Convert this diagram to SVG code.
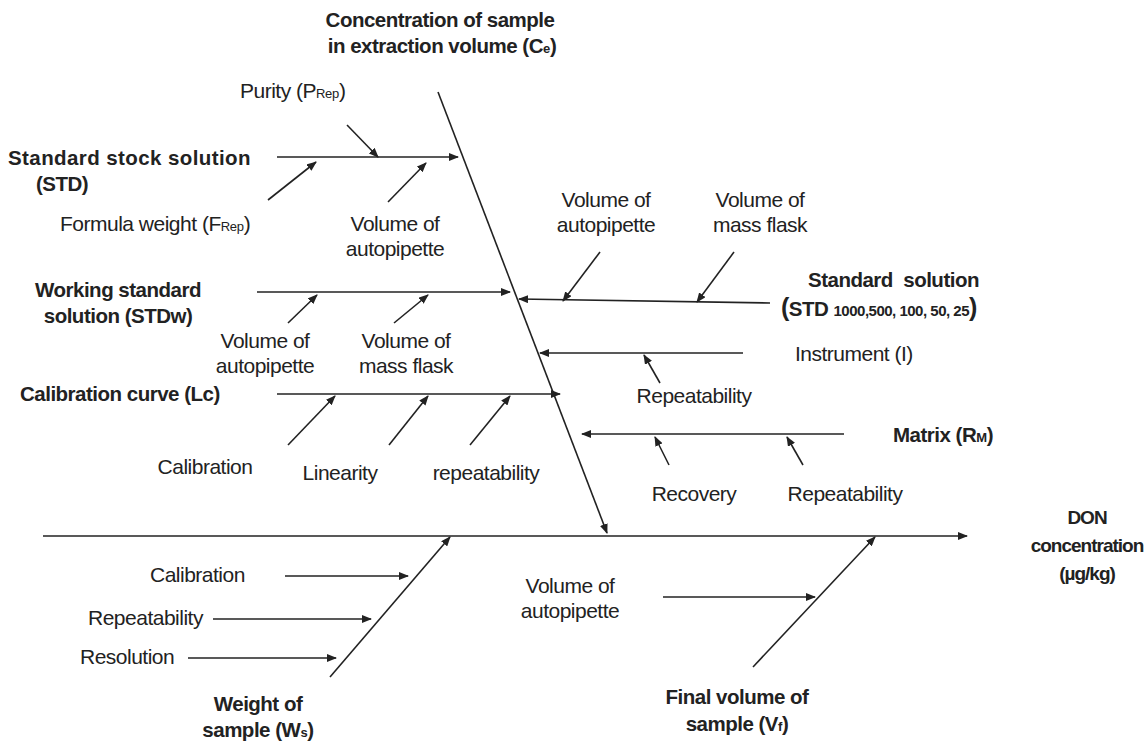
<svg xmlns="http://www.w3.org/2000/svg" width="1147" height="743" viewBox="0 0 1147 743">
<defs>
<marker id="ah" markerWidth="10" markerHeight="8" refX="9" refY="4" orient="auto" markerUnits="userSpaceOnUse">
<path d="M0,0 L10,4 L0,8 Z" fill="#222"/>
</marker>
<style>
.t{font-family:"Liberation Sans",Arial,sans-serif;font-size:21px;fill:#222;letter-spacing:-0.5px}
.b{font-weight:bold;font-size:20.5px;letter-spacing:-0.5px}
.d{font-size:19px;letter-spacing:-1px}
.s{font-size:13px;letter-spacing:-0.3px}
.c{text-anchor:middle}
.ar{stroke:#222;stroke-width:1.6;fill:none;marker-end:url(#ah)}
</style>
</defs>
<rect width="1147" height="743" fill="#fff"/>
<g id="connectors">
<line class="ar" x1="43" y1="536" x2="967" y2="536"/>
<line class="ar" x1="438" y1="92" x2="607" y2="533"/>
<line class="ar" x1="277" y1="157" x2="458" y2="157"/>
<line class="ar" x1="347" y1="125" x2="378" y2="157"/>
<line class="ar" x1="268" y1="200" x2="316" y2="162"/>
<line class="ar" x1="388" y1="202" x2="426" y2="163"/>
<line class="ar" x1="257" y1="292" x2="510" y2="292"/>
<line class="ar" x1="288" y1="323" x2="317" y2="295"/>
<line class="ar" x1="394" y1="323" x2="428" y2="295"/>
<line class="ar" x1="770" y1="303" x2="519" y2="299"/>
<line class="ar" x1="600" y1="252" x2="563" y2="301"/>
<line class="ar" x1="734" y1="252" x2="697" y2="302"/>
<line class="ar" x1="743" y1="353" x2="540" y2="353"/>
<line class="ar" x1="660" y1="383" x2="644" y2="355"/>
<line class="ar" x1="277" y1="394" x2="560" y2="394"/>
<line class="ar" x1="288" y1="445" x2="335" y2="396"/>
<line class="ar" x1="389" y1="445" x2="428" y2="396"/>
<line class="ar" x1="470" y1="445" x2="510" y2="396"/>
<line class="ar" x1="844" y1="434" x2="582" y2="434"/>
<line class="ar" x1="669" y1="465" x2="655" y2="437"/>
<line class="ar" x1="803" y1="465" x2="787" y2="437"/>
<line class="ar" x1="330" y1="677" x2="450" y2="537"/>
<line class="ar" x1="285" y1="576" x2="408" y2="576"/>
<line class="ar" x1="213" y1="619" x2="371" y2="619"/>
<line class="ar" x1="188" y1="658" x2="336" y2="658"/>
<line class="ar" x1="753" y1="667" x2="875" y2="537"/>
<line class="ar" x1="663" y1="597" x2="815" y2="597"/>
</g>
<g id="n-ce"><text class="t b c" x="440" y="27">Concentration of sample</text><text class="t b c" x="442" y="53">in extraction volume (C<tspan class="s">e</tspan>)</text></g>
<g id="n-purity"><text class="t" x="240" y="98">Purity (P<tspan class="s">Rep</tspan>)</text></g>
<g id="n-std"><text class="t b" x="8" y="165" textLength="242">Standard stock solution</text><text class="t b c" x="62" y="191">(STD)</text></g>
<g id="n-fw"><text class="t" x="60" y="231">Formula weight (F<tspan class="s">Rep</tspan>)</text></g>
<g id="n-vap1"><text class="t c" x="395" y="231">Volume of</text><text class="t c" x="395" y="256">autopipette</text></g>
<g id="n-vap2"><text class="t c" x="606" y="207">Volume of</text><text class="t c" x="606" y="232">autopipette</text></g>
<g id="n-vmf1"><text class="t c" x="760" y="207">Volume of</text><text class="t c" x="760" y="232">mass flask</text></g>
<g id="n-stdsol"><text class="t b" x="808" y="287" xml:space="preserve">Standard  solution</text><text class="t b" x="781" y="316"><tspan font-size="25">(</tspan>STD <tspan font-size="15">1000,500, 100, 50, 25</tspan><tspan font-size="25">)</tspan></text></g>
<g id="n-stdw"><text class="t b c" x="118" y="297">Working standard</text><text class="t b c" x="118" y="323">solution (STDw)</text></g>
<g id="n-vap3"><text class="t c" x="265" y="348">Volume of</text><text class="t c" x="265" y="373">autopipette</text></g>
<g id="n-vmf2"><text class="t c" x="406" y="348">Volume of</text><text class="t c" x="406" y="373">mass flask</text></g>
<g id="n-instr"><text class="t" x="795" y="361">Instrument (I)</text></g>
<g id="n-rep1"><text class="t c" x="694" y="403">Repeatability</text></g>
<g id="n-lc"><text class="t b" x="20" y="401">Calibration curve (Lc)</text></g>
<g id="n-cal1"><text class="t c" x="205" y="474">Calibration</text></g>
<g id="n-lin"><text class="t c" x="340" y="480">Linearity</text></g>
<g id="n-rep2"><text class="t c" x="486" y="480">repeatability</text></g>
<g id="n-matrix"><text class="t b" x="893" y="442">Matrix (R<tspan class="s">M</tspan>)</text></g>
<g id="n-rec"><text class="t c" x="694" y="501">Recovery</text></g>
<g id="n-rep3"><text class="t c" x="845" y="501">Repeatability</text></g>
<g id="n-don"><text class="t b d c" x="1087" y="524">DON</text><text class="t b d c" x="1087" y="552">concentration</text><text class="t b d c" x="1087" y="580">(µg/kg)</text></g>
<g id="n-cal2"><text class="t" x="150" y="582">Calibration</text></g>
<g id="n-rep4"><text class="t" x="88" y="625">Repeatability</text></g>
<g id="n-res"><text class="t" x="80" y="664">Resolution</text></g>
<g id="n-ws"><text class="t b c" x="258" y="711">Weight of</text><text class="t b c" x="258" y="737">sample (W<tspan class="s">s</tspan>)</text></g>
<g id="n-vap4"><text class="t c" x="570" y="593">Volume of</text><text class="t c" x="570" y="618">autopipette</text></g>
<g id="n-vf"><text class="t b c" x="737" y="704">Final volume of</text><text class="t b c" x="737" y="731">sample (V<tspan class="s">f</tspan>)</text></g>
</svg>
